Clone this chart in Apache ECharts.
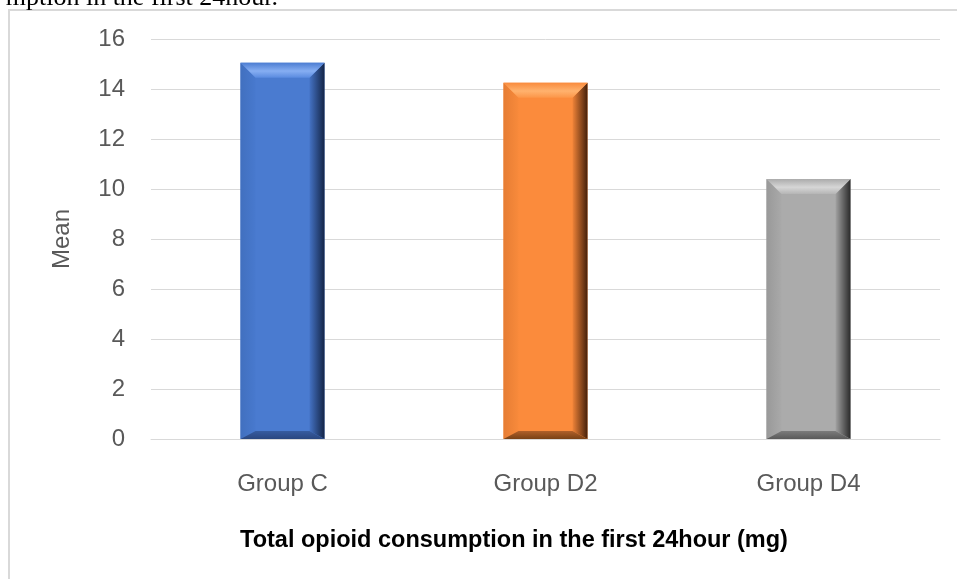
<!DOCTYPE html>
<html>
<head>
<meta charset="utf-8">
<script src="https://cdn.jsdelivr.net/npm/echarts@6/dist/echarts.min.js"></script>
<style>
  html, body { margin: 0; padding: 0; background: #fff; }
  #chart { width: 957px; height: 579px; }
</style>
</head>
<body>
<div id="chart"></div>
<script>
// data
const groups = ['Group C', 'Group D2', 'Group D4'];
const meanValues = [15.05, 14.25, 10.4];
const yTicks = { min: 0, max: 16, step: 2 };

// bevel colours per bar
const palette = [
  { face: '#4A7BD0', left: ['#4170BF', '#4879CE'], right: ['#4472C4', '#142547'],
    top: ['#4C7DD2', '#86AEF2', '#5A8BE0'], bottom: ['#375CA0', '#2A4780'] },
  { face: '#FB8B3C', left: ['#E67D34', '#F88A3B'], right: ['#F08338', '#45200A'],
    top: ['#F98B3D', '#FFB26E', '#FC9648'], bottom: ['#B0602A', '#7A4115'] },
  { face: '#ABABAB', left: ['#999999', '#A9A9A9'], right: ['#A2A2A2', '#2A2A2A'],
    top: ['#ABABAB', '#D6D6D6', '#B5B5B5'], bottom: ['#7C7C7C', '#5A5A5A'] }
];

const G = echarts.graphic;
const hGrad = (a, b) => new G.LinearGradient(0, 0, 1, 0, [{ offset: 0, color: a }, { offset: 1, color: b }]);
const vGrad = (a, b) => new G.LinearGradient(0, 0, 0, 1, [{ offset: 0, color: a }, { offset: 1, color: b }]);

const BAR_W = 84, BEVEL = 15, BEVEL_BOTTOM = 8;

function renderBar(params, api) {
  const idx = api.value(0);
  const topPt = api.coord([idx, api.value(1)]);
  const basePt = api.coord([idx, 0]);
  const c = palette[params.dataIndex];
  const x0 = topPt[0] - BAR_W / 2, x1 = topPt[0] + BAR_W / 2;
  const y0 = topPt[1], y1 = basePt[1];
  const b = BEVEL, bb = BEVEL_BOTTOM;
  return {
    type: 'group',
    children: [
      { type: 'rect', shape: { x: x0, y: y0, width: BAR_W, height: y1 - y0 }, style: { fill: c.face } },
      { type: 'polygon', shape: { points: [[x0, y0], [x0 + b, y0 + b], [x0 + b, y1 - bb], [x0, y1]] },
        style: { fill: hGrad(c.left[0], c.left[1]) } },
      { type: 'polygon', shape: { points: [[x1, y0], [x1 - b, y0 + b], [x1 - b, y1 - bb], [x1, y1]] },
        style: { fill: hGrad(c.right[0], c.right[1]) } },
      { type: 'polygon', shape: { points: [[x0, y0], [x1, y0], [x1 - b, y0 + b], [x0 + b, y0 + b]] },
        style: { fill: new G.LinearGradient(0, 0, 0, 1, [
          { offset: 0, color: c.top[0] }, { offset: 0.55, color: c.top[1] }, { offset: 1, color: c.top[2] }
        ]) } },
      { type: 'polygon', shape: { points: [[x0, y1], [x1, y1], [x1 - b, y1 - bb], [x0 + b, y1 - bb]] },
        style: { fill: vGrad(c.bottom[0], c.bottom[1]) } }
    ]
  };
}

const chart = echarts.init(document.getElementById('chart'));

chart.setOption({
  animation: false,
  grid: { left: 151, right: 17, top: 39, bottom: 140 },
  xAxis: {
    type: 'category',
    data: groups,
    axisLine: { lineStyle: { color: '#d9d9d9', width: 1 } },
    axisTick: { show: false },
    axisLabel: {
      fontFamily: 'Liberation Sans',
      fontSize: 24,
      color: '#595959',
      margin: 33
    }
  },
  yAxis: {
    type: 'value',
    min: yTicks.min,
    max: yTicks.max,
    interval: yTicks.step,
    name: 'Mean',
    nameLocation: 'middle',
    nameGap: 77,
    nameTextStyle: { fontFamily: 'Liberation Sans', fontSize: 24, color: '#595959' },
    axisLine: { show: false },
    axisTick: { show: false },
    axisLabel: {
      fontFamily: 'Liberation Sans',
      fontSize: 24,
      color: '#595959',
      margin: 26
    },
    splitLine: { lineStyle: { color: '#d9d9d9', width: 1 } }
  },
  series: [{
    type: 'custom',
    renderItem: renderBar,
    encode: { x: 0, y: 1 },
    data: meanValues.map((v, i) => [i, v])
  }],
  graphic: [
    // frame of the embedded chart
    { type: 'line', shape: { x1: 9, y1: 10, x2: 9, y2: 579 }, style: { stroke: '#d9d9d9', lineWidth: 2 } },
    { type: 'line', shape: { x1: 8, y1: 10, x2: 957, y2: 10 }, style: { stroke: '#d9d9d9', lineWidth: 2 } },
    // caption text cut off above the chart
    {
      type: 'text', x: 278, y: -2,
      style: {
        text: 'mption in the first 24hour.',
        font: '26px "Liberation Serif"',
        fill: '#000',
        textAlign: 'right',
        textVerticalAlign: 'middle'
      }
    },
    {
      type: 'text', x: 514, y: 541,
      style: {
        text: 'Total opioid consumption in the first 24hour (mg)',
        font: 'bold 23.5px "Liberation Sans"',
        fill: '#000',
        textAlign: 'center',
        textVerticalAlign: 'middle'
      }
    }
  ]
});
</script>
</body>
</html>
